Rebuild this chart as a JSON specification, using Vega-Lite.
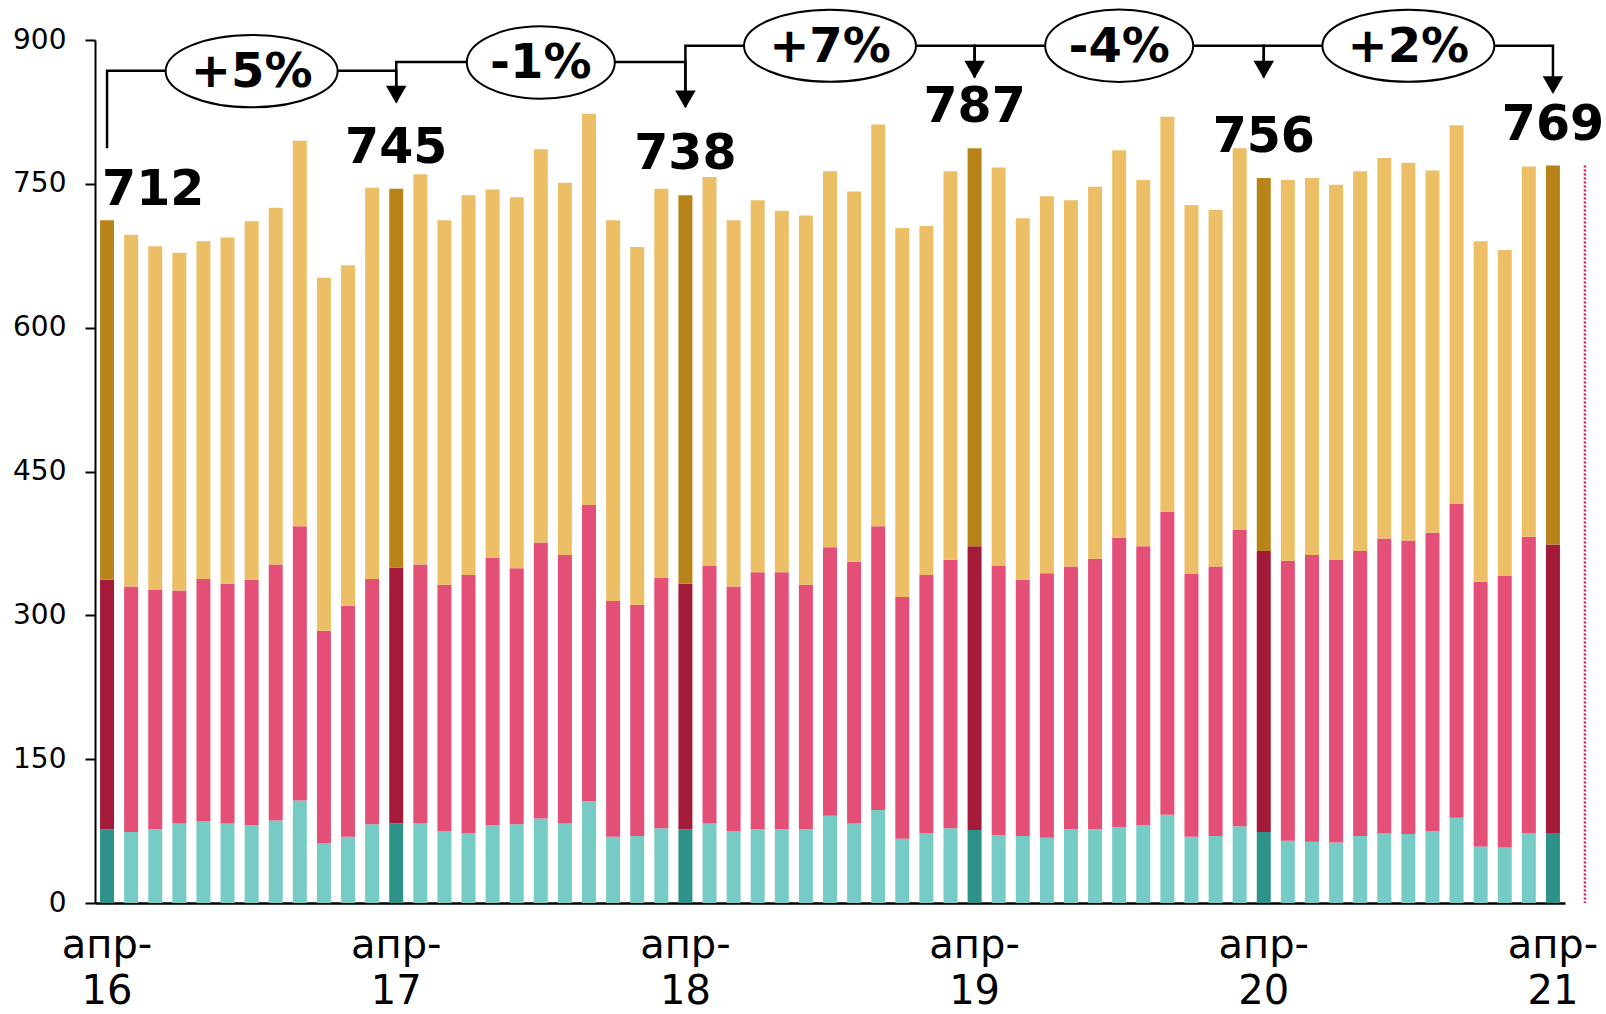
{
  "$schema": "https://vega.github.io/schema/vega-lite/v6.json",
  "width": 1470,
  "height": 863,
  "autosize": {"type": "none"},
  "padding": {"left": 95, "top": 40, "right": 41, "bottom": 111},
  "background": "white",
  "config": {
    "view": {"stroke": null},
    "font": "DejaVu Sans",
    "axisY": {
      "grid": false,
      "domainColor": "#000000",
      "domainWidth": 2,
      "tickColor": "#000000",
      "tickWidth": 2,
      "tickSize": 10,
      "labelFontSize": 28,
      "labelPadding": 19,
      "labelColor": "#000000",
      "labelFont": "DejaVu Sans"
    }
  },
  "datasets": {
    "bars": [
      {"m": "2016-04", "s1": 77, "s2": 260, "s3": 375, "T": 712},
      {"m": "2016-05", "s1": 74, "s2": 256, "s3": 367, "T": 697},
      {"m": "2016-06", "s1": 77, "s2": 250, "s3": 358, "T": 685},
      {"m": "2016-07", "s1": 83, "s2": 243, "s3": 352, "T": 678},
      {"m": "2016-08", "s1": 85, "s2": 253, "s3": 352, "T": 690},
      {"m": "2016-09", "s1": 83, "s2": 250, "s3": 361, "T": 694},
      {"m": "2016-10", "s1": 81, "s2": 256, "s3": 374, "T": 711},
      {"m": "2016-11", "s1": 86, "s2": 267, "s3": 372, "T": 725},
      {"m": "2016-12", "s1": 107, "s2": 286, "s3": 402, "T": 795},
      {"m": "2017-01", "s1": 62, "s2": 222, "s3": 368, "T": 652},
      {"m": "2017-02", "s1": 69, "s2": 241, "s3": 355, "T": 665},
      {"m": "2017-03", "s1": 82, "s2": 256, "s3": 408, "T": 746},
      {"m": "2017-04", "s1": 83, "s2": 267, "s3": 395, "T": 745},
      {"m": "2017-05", "s1": 83, "s2": 270, "s3": 407, "T": 760},
      {"m": "2017-06", "s1": 75, "s2": 257, "s3": 380, "T": 712},
      {"m": "2017-07", "s1": 73, "s2": 269, "s3": 396, "T": 738},
      {"m": "2017-08", "s1": 81, "s2": 279, "s3": 384, "T": 744},
      {"m": "2017-09", "s1": 82, "s2": 267, "s3": 387, "T": 736},
      {"m": "2017-10", "s1": 88, "s2": 288, "s3": 410, "T": 786},
      {"m": "2017-11", "s1": 83, "s2": 280, "s3": 388, "T": 751},
      {"m": "2017-12", "s1": 106, "s2": 309, "s3": 408, "T": 823},
      {"m": "2018-01", "s1": 69, "s2": 246, "s3": 397, "T": 712},
      {"m": "2018-02", "s1": 70, "s2": 241, "s3": 373, "T": 684},
      {"m": "2018-03", "s1": 78, "s2": 261, "s3": 406, "T": 745},
      {"m": "2018-04", "s1": 77, "s2": 256, "s3": 405, "T": 738},
      {"m": "2018-05", "s1": 83, "s2": 269, "s3": 405, "T": 757},
      {"m": "2018-06", "s1": 75, "s2": 255, "s3": 382, "T": 712},
      {"m": "2018-07", "s1": 77, "s2": 268, "s3": 388, "T": 733},
      {"m": "2018-08", "s1": 77, "s2": 268, "s3": 377, "T": 722},
      {"m": "2018-09", "s1": 77, "s2": 255, "s3": 385, "T": 717},
      {"m": "2018-10", "s1": 91, "s2": 280, "s3": 392, "T": 763},
      {"m": "2018-11", "s1": 83, "s2": 273, "s3": 386, "T": 742},
      {"m": "2018-12", "s1": 97, "s2": 296, "s3": 419, "T": 812},
      {"m": "2019-01", "s1": 67, "s2": 252, "s3": 385, "T": 704},
      {"m": "2019-02", "s1": 73, "s2": 269, "s3": 364, "T": 706},
      {"m": "2019-03", "s1": 78, "s2": 280, "s3": 405, "T": 763},
      {"m": "2019-04", "s1": 76, "s2": 296, "s3": 415, "T": 787},
      {"m": "2019-05", "s1": 71, "s2": 281, "s3": 415, "T": 767},
      {"m": "2019-06", "s1": 70, "s2": 267, "s3": 377, "T": 714},
      {"m": "2019-07", "s1": 68, "s2": 276, "s3": 393, "T": 737},
      {"m": "2019-08", "s1": 77, "s2": 274, "s3": 382, "T": 733},
      {"m": "2019-09", "s1": 77, "s2": 282, "s3": 388, "T": 747},
      {"m": "2019-10", "s1": 79, "s2": 302, "s3": 404, "T": 785},
      {"m": "2019-11", "s1": 81, "s2": 291, "s3": 382, "T": 754},
      {"m": "2019-12", "s1": 92, "s2": 316, "s3": 412, "T": 820},
      {"m": "2020-01", "s1": 69, "s2": 274, "s3": 385, "T": 728},
      {"m": "2020-02", "s1": 70, "s2": 281, "s3": 372, "T": 723},
      {"m": "2020-03", "s1": 80, "s2": 309, "s3": 398, "T": 787},
      {"m": "2020-04", "s1": 74, "s2": 293, "s3": 389, "T": 756},
      {"m": "2020-05", "s1": 65, "s2": 292, "s3": 397, "T": 754},
      {"m": "2020-06", "s1": 64, "s2": 299, "s3": 393, "T": 756},
      {"m": "2020-07", "s1": 63, "s2": 295, "s3": 391, "T": 749},
      {"m": "2020-08", "s1": 70, "s2": 297, "s3": 396, "T": 763},
      {"m": "2020-09", "s1": 73, "s2": 307, "s3": 397, "T": 777},
      {"m": "2020-10", "s1": 72, "s2": 306, "s3": 394, "T": 772},
      {"m": "2020-11", "s1": 75, "s2": 311, "s3": 378, "T": 764},
      {"m": "2020-12", "s1": 89, "s2": 327, "s3": 395, "T": 811},
      {"m": "2021-01", "s1": 59, "s2": 276, "s3": 355, "T": 690},
      {"m": "2021-02", "s1": 58, "s2": 283, "s3": 340, "T": 681},
      {"m": "2021-03", "s1": 73, "s2": 309, "s3": 386, "T": 768},
      {"m": "2021-04", "s1": 73, "s2": 301, "s3": 395, "T": 769}
    ],
    "brackets": [
      {"id": 1, "seq": 1, "m": "2016-04", "v": 787},
      {"id": 1, "seq": 2, "m": "2016-04", "v": 868},
      {"id": 1, "seq": 3, "m": "2017-04", "v": 868},
      {"id": 1, "seq": 4, "m": "2017-04", "v": 843},
      {"id": 2, "seq": 1, "m": "2017-04", "v": 835},
      {"id": 2, "seq": 2, "m": "2017-04", "v": 877},
      {"id": 2, "seq": 3, "m": "2018-04", "v": 877},
      {"id": 2, "seq": 4, "m": "2018-04", "v": 838},
      {"id": 3, "seq": 1, "m": "2018-04", "v": 830},
      {"id": 3, "seq": 2, "m": "2018-04", "v": 894},
      {"id": 3, "seq": 3, "m": "2019-04", "v": 894},
      {"id": 3, "seq": 4, "m": "2019-04", "v": 869},
      {"id": 4, "seq": 1, "m": "2019-04", "v": 861},
      {"id": 4, "seq": 2, "m": "2019-04", "v": 894},
      {"id": 4, "seq": 3, "m": "2020-04", "v": 894},
      {"id": 4, "seq": 4, "m": "2020-04", "v": 869},
      {"id": 5, "seq": 1, "m": "2020-04", "v": 861},
      {"id": 5, "seq": 2, "m": "2020-04", "v": 894},
      {"id": 5, "seq": 3, "m": "2021-04", "v": 894},
      {"id": 5, "seq": 4, "m": "2021-04", "v": 853}
    ],
    "arrows": [
      {"m": "2017-04", "v": 843},
      {"m": "2018-04", "v": 838},
      {"m": "2019-04", "v": 869},
      {"m": "2020-04", "v": 869},
      {"m": "2021-04", "v": 853}
    ],
    "changes": [
      {"m": "2016-10", "v": 867.5, "t": "+5%"},
      {"m": "2017-10", "v": 876.6, "t": "-1%"},
      {"m": "2018-10", "v": 894, "t": "+7%"},
      {"m": "2019-10", "v": 894, "t": "-4%"},
      {"m": "2020-10", "v": 894, "t": "+2%"}
    ]
  },
  "data": {"name": "bars"},
  "encoding": {
    "x": {
      "field": "m",
      "type": "ordinal",
      "scale": {"type": "band", "paddingInner": 0.42, "paddingOuter": 0.21},
      "axis": {
        "title": null,
        "ticks": false,
        "domainColor": "#000000",
        "domainWidth": 2.5,
        "labelExpr": "slice(datum.value, 5) == '04' ? ['апр-', slice(datum.value, 2, 4)] : ''",
        "labelAngle": 0,
        "labelFontSize": 40,
        "labelLineHeight": 46,
        "labelPadding": 22,
        "labelColor": "#000000",
        "labelOverlap": false,
        "labelBound": false,
        "labelFont": "DejaVu Sans"
      }
    }
  },
  "layer": [
    {
      "transform": [
        {"filter": "slice(datum.m, 5) != '04'"},
        {"fold": ["s1", "s2", "s3"], "as": ["k", "v"]}
      ],
      "mark": {"type": "bar"},
      "encoding": {
        "y": {
          "field": "v",
          "type": "quantitative",
          "stack": "zero",
          "scale": {"domain": [0, 900], "nice": false},
          "axis": {"title": null, "values": [0, 150, 300, 450, 600, 750, 900]}
        },
        "color": {
          "field": "k",
          "type": "nominal",
          "scale": {"domain": ["s1", "s2", "s3"], "range": ["#76CBC5", "#E34F76", "#ECBF66"]},
          "legend": null
        },
        "order": {"field": "k", "type": "nominal", "sort": "ascending"}
      }
    },
    {
      "transform": [
        {"filter": "slice(datum.m, 5) == '04'"},
        {"fold": ["s1", "s2", "s3"], "as": ["k", "v"]}
      ],
      "mark": {"type": "bar"},
      "encoding": {
        "y": {"field": "v", "type": "quantitative", "stack": "zero", "axis": {"title": null, "values": [0, 150, 300, 450, 600, 750, 900]}},
        "color": {
          "field": "k",
          "type": "nominal",
          "scale": {"domain": ["s1", "s2", "s3"], "range": ["#2E918A", "#A31B38", "#B8841A"]},
          "legend": null
        },
        "order": {"field": "k", "type": "nominal", "sort": "ascending"}
      }
    },
    {
      "transform": [{"filter": "datum.m == '2021-04'"}],
      "mark": {"type": "rule", "xOffset": 32, "color": "#D9164F", "strokeDash": [2, 2], "strokeWidth": 2.5},
      "encoding": {
        "y": {"field": "T", "type": "quantitative", "axis": {"title": null, "values": [0, 150, 300, 450, 600, 750, 900]}},
        "y2": {"datum": 0}
      }
    },
    {
      "transform": [{"filter": "slice(datum.m, 5) == '04' && datum.m != '2016-04'"}],
      "mark": {"type": "text", "fontSize": 49, "fontWeight": "bold", "font": "DejaVu Sans", "align": "center", "baseline": "alphabetic", "dy": -26, "color": "#000000"},
      "encoding": {
        "y": {"field": "T", "type": "quantitative", "axis": {"title": null, "values": [0, 150, 300, 450, 600, 750, 900]}},
        "text": {"field": "T", "type": "quantitative"}
      }
    },
    {
      "transform": [{"filter": "datum.m == '2016-04'"}],
      "mark": {"type": "text", "fontSize": 49, "fontWeight": "bold", "font": "DejaVu Sans", "align": "left", "baseline": "alphabetic", "dx": -5, "dy": -15, "color": "#000000"},
      "encoding": {
        "y": {"field": "T", "type": "quantitative", "axis": {"title": null, "values": [0, 150, 300, 450, 600, 750, 900]}},
        "text": {"field": "T", "type": "quantitative"}
      }
    },
    {
      "data": {"name": "brackets"},
      "mark": {"type": "line", "color": "#000000", "strokeWidth": 2.5, "interpolate": "linear"},
      "encoding": {
        "y": {"field": "v", "type": "quantitative", "axis": {"title": null, "values": [0, 150, 300, 450, 600, 750, 900]}},
        "detail": {"field": "id", "type": "nominal"},
        "order": {"field": "seq", "type": "quantitative"}
      }
    },
    {
      "data": {"name": "arrows"},
      "mark": {"type": "point", "shape": "triangle-down", "filled": true, "color": "#000000", "size": 420, "opacity": 1},
      "encoding": {
        "y": {"field": "v", "type": "quantitative", "axis": {"title": null, "values": [0, 150, 300, 450, 600, 750, 900]}}
      }
    },
    {
      "data": {"name": "changes"},
      "transform": [{"filter": "indexof(datum.t, '+') == 0"}],
      "mark": {
        "type": "point",
        "shape": "M-1,0C-1,-0.232,-0.552,-0.42,0,-0.42C0.552,-0.42,1,-0.232,1,0C1,0.232,0.552,0.42,0,0.42C-0.552,0.42,-1,0.232,-1,0Z",
        "size": 29584,
        "filled": true,
        "fill": "#FFFFFF",
        "stroke": "#000000",
        "strokeWidth": 2,
        "opacity": 1
      },
      "encoding": {
        "y": {"field": "v", "type": "quantitative", "axis": {"title": null, "values": [0, 150, 300, 450, 600, 750, 900]}}
      }
    },
    {
      "data": {"name": "changes"},
      "transform": [{"filter": "indexof(datum.t, '-') == 0"}],
      "mark": {
        "type": "point",
        "shape": "M-1,0C-1,-0.271,-0.552,-0.49,0,-0.49C0.552,-0.49,1,-0.271,1,0C1,0.271,0.552,0.49,0,0.49C-0.552,0.49,-1,0.271,-1,0Z",
        "size": 21904,
        "filled": true,
        "fill": "#FFFFFF",
        "stroke": "#000000",
        "strokeWidth": 2,
        "opacity": 1
      },
      "encoding": {
        "y": {"field": "v", "type": "quantitative", "axis": {"title": null, "values": [0, 150, 300, 450, 600, 750, 900]}}
      }
    },
    {
      "data": {"name": "changes"},
      "mark": {"type": "text", "fontSize": 48, "fontWeight": "bold", "font": "DejaVu Sans", "align": "center", "baseline": "middle", "dy": 2, "color": "#000000"},
      "encoding": {
        "y": {"field": "v", "type": "quantitative", "axis": {"title": null, "values": [0, 150, 300, 450, 600, 750, 900]}},
        "text": {"field": "t", "type": "nominal"}
      }
    }
  ],
  "resolve": {"scale": {"color": "independent"}}
}
